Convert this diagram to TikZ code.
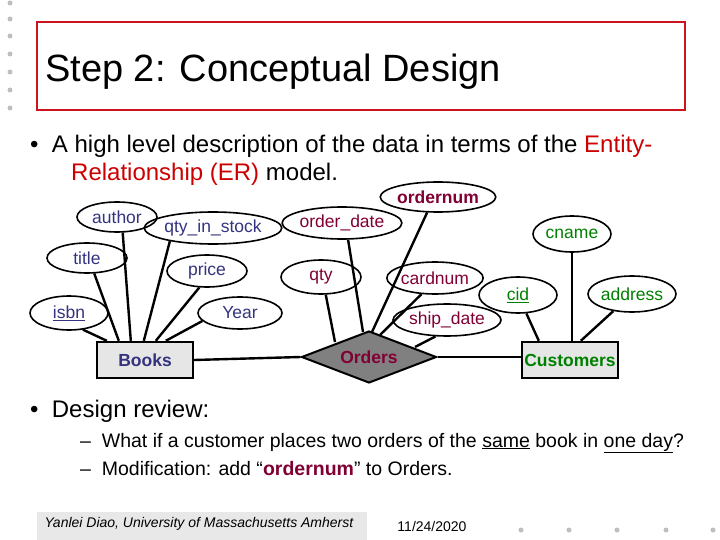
\documentclass[tikz,border=0pt]{standalone}
\usepackage{fontspec}
\setmainfont{Liberation Sans}
\usetikzlibrary{shapes.geometric}
\definecolor{bk}{RGB}{51,51,128}
\definecolor{od}{RGB}{128,0,51}
\definecolor{cu}{RGB}{0,128,0}
\definecolor{tred}{RGB}{204,0,0}
\definecolor{boxred}{RGB}{204,20,30}
\definecolor{dotg}{RGB}{190,190,190}
\tikzset{
 attr/.style={ellipse,draw,line width=1.6pt,inner sep=0pt,font=\fontsize{17.5}{20}\selectfont},
 ent/.style={rectangle,draw,line width=2.4pt,fill={rgb,255:red,230;green,230;blue,230},inner sep=0pt,minimum width=96pt,minimum height=36pt,font=\bfseries\fontsize{17.5}{20}\selectfont},
 rel/.style={diamond,draw,line width=2pt,fill={rgb,255:red,128;green,128;blue,128},inner sep=0pt,minimum width=135pt,minimum height=52pt,font=\bfseries\fontsize{17.5}{20}\selectfont,aspect=2.6},
 con/.style={line width=2.4pt},
 txt/.style={anchor=base west,inner sep=0pt,font=\fontsize{24}{28}\selectfont},
 stxt/.style={anchor=base west,inner sep=0pt,font=\fontsize{19.5}{22}\selectfont},
 dot/.style={circle,fill=dotg,inner sep=0pt,minimum size=5pt}
}
\begin{document}
\begin{tikzpicture}[x=1pt,y=-1pt]
\useasboundingbox (0,0) rectangle (720,540);
% left dots
\foreach \i/\yy in {1/3,2/19,3/36,4/54,5/72,6/90,7/108} \node[dot] (ld\i) at (10,\yy) {};
\foreach \i/\xx in {1/521,2/569,3/617,4/666,5/713} \node[dot] (bd\i) at (\xx,530) {};
% title box
\node[draw=boxred,line width=2.5pt,minimum width=648pt,minimum height=88pt,inner sep=0pt] (tbox) at (361,66) {};
\node[anchor=base west,inner sep=0pt,font=\fontsize{38}{44}\selectfont] (title) at (45,82) {Step 2: Conceptual Design};
% text
\node[txt] (b1) at (30,153) {\textbullet\ \ A high level description of the data in terms of the \textcolor{tred}{Entity-}};
\node[txt] (b1b) at (71,181) {\textcolor{tred}{Relationship (ER)} model.};
\node[txt] (b2) at (30,417) {\textbullet\ \ Design review:};
\node[stxt] (s1) at (80,447) {–\ \ What if a customer places two orders of the \underline{same} book in \underline{one day}?};
\node[stxt] (s2) at (80,475) {–\ \ Modification: add “\textcolor{od}{\textbf{ordernum}}” to Orders.};
% footer
\node[fill={rgb,255:red,232;green,232;blue,232},minimum width=330pt,minimum height=28pt,inner sep=0pt] (fbox) at (202,526) {};
\node[font=\itshape\fontsize{14}{16}\selectfont] (ftxt) at (199,524) {Yanlei Diao, University of Massachusetts Amherst};
\node[font=\fontsize{14}{16}\selectfont] (date) at (432,526) {11/24/2020};
% Books
\node[ent,text=bk] (books) at (145,360) {Books};
\begin{scope}[every node/.append style={text=bk}]
\node[attr,minimum width=80pt,minimum height=30pt] (author) at (117,217) {author};
\node[attr,minimum width=114pt,minimum height=32pt] (qis) at (213,228) {qty\_in\_stock};
\node[attr,minimum width=80pt,minimum height=30pt] (title2) at (87,258) {title};
\node[attr,minimum width=80pt,minimum height=32pt] (price) at (207,271) {price};
\node[attr,minimum width=78pt,minimum height=34pt] (isbn) at (69,313) {\underline{isbn}};
\node[attr,minimum width=84pt,minimum height=32pt] (year) at (240,313) {Year};
\end{scope}
\draw[con] (isbn.310) -- ([xshift=11pt]books.north west);
\draw[con] (title2.295) -- ([xshift=23pt]books.north west);
\draw[con] (author.290) -- ([xshift=35pt]books.north west);
\draw[con] (qis.197) -- ([xshift=48pt]books.north west);
\draw[con] (price.245) -- ([xshift=60pt]books.north west);
\draw[con] (year.192) -- ([xshift=70pt]books.north west);
% Orders
\node[rel,text=od] (orders) at (369,357) {Orders};
\begin{scope}[every node/.append style={text=od}]
\node[attr,minimum width=106pt,minimum height=30pt,font=\bfseries\fontsize{17.5}{20}\selectfont] (onum) at (438,197) {ordernum};
\node[attr,minimum width=108pt,minimum height=32pt] (odate) at (342,223) {order\_date};
\node[attr,minimum width=80pt,minimum height=34pt] (qty) at (321,277) {qty};
\node[attr,minimum width=76pt,minimum height=32pt] (card) at (435,278) {cardnum};
\node[attr,minimum width=108pt,minimum height=32pt] (ship) at (447,320) {ship\_date};
\end{scope}
\draw[con] (qty.285) -- ([xshift=-34pt,yshift=15pt]orders.center);
\draw[con] (odate.290) -- ([xshift=-6pt,yshift=25pt]orders.center);
\draw[con] (onum.235) -- ([xshift=3pt,yshift=25pt]orders.center);
\draw[con] (card.230) -- ([xshift=11pt,yshift=22pt]orders.center);
\draw[con] (ship.235) -- ([xshift=46pt,yshift=10pt]orders.center);
% Customers
\node[ent,text=cu] (cust) at (570,360) {Customers};
\begin{scope}[every node/.append style={text=cu}]
\node[attr,minimum width=78pt,minimum height=36pt] (cname) at (572,234) {cname};
\node[attr,minimum width=78pt,minimum height=36pt] (cid) at (518,295) {\underline{cid}};
\node[attr,minimum width=78pt,minimum height=36pt] (addr) at (632,294) {address};
\end{scope}
\draw[con] (cname) -- (cname |- cust.north);
\draw[con] (cid) -- ([xshift=18pt]cust.north west);
\draw[con] (addr) -- ([xshift=60pt]cust.north west);
% relationships
\draw[con] (books.east) -- (orders.west);
\draw[con] (orders.east) -- (orders.east -| cust.west);
\end{tikzpicture}
\end{document}
